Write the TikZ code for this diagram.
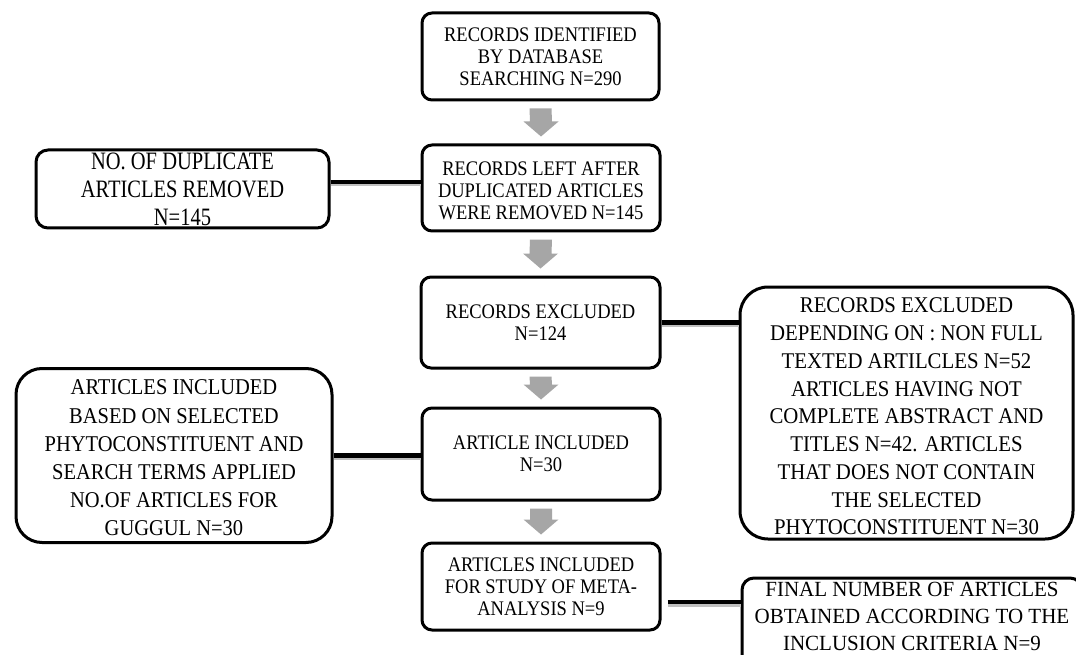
\documentclass[tikz,border=0pt]{standalone}
\usepackage{fontspec}
\usepackage{graphicx}
\setmainfont{Liberation Serif}
\usetikzlibrary{calc}
\definecolor{arrowgray}{HTML}{A6A6A6}
% #1 inner pos, #2 width, #3 height, #4 vertical stretch, #5 top space, #6 text
\newcommand{\bx}[6][c]{%
  \pgfmathsetlengthmacro{\bxh}{#3/#4}%
  \scalebox{1}[#4]{\parbox[c][\bxh][#1]{#2}{\centering\vspace*{#5}#6}}}
\tikzset{
  box/.style={draw, line width=3pt, rounded corners=10pt, inner sep=0pt},
  link/.style={line width=4.5pt},
  linkshadow/.style={line width=4pt, black!25},
}
\newcommand{\grayarrow}[2]{%
  \fill[arrowgray] ($(#1.south)+(-11,7)$) -- ($(#1.south)+(11,7)$)
    -- ($(#2.north)+(11,-22)$) -- ($(#2.north)+(17.5,-22)$)
    -- ($(#2.north)+(0,-7)$) -- ($(#2.north)+(-17.5,-22)$)
    -- ($(#2.north)+(-11,-22)$) -- cycle;}
\begin{document}
\begin{tikzpicture}[x=1pt,y=-1pt]
\useasboundingbox[fill=white] (0,0) rectangle (1076,655);
% main column
\tikzset{mainfont/.style={font=\fontsize{18.5}{19.6}\selectfont}}
\node[box, mainfont] (b1) at (540.5,56.5) {\bx{237pt}{87pt}{1.12}{0pt}{RECORDS IDENTIFIED\\BY DATABASE\\SEARCHING N=290}};
\node[box, mainfont] (b2) at (541,188) {\bx{238pt}{86pt}{1.12}{5.4pt}{RECORDS LEFT AFTER\\DUPLICATED ARTICLES\\WERE REMOVED N=145}};
\node[box, mainfont] (b3) at (540.5,322.5) {\bx{239pt}{91pt}{1.12}{0pt}{RECORDS EXCLUDED\\N=124}};
\node[box, mainfont] (b4) at (541,454) {\bx{238pt}{92pt}{1.12}{0pt}{ARTICLE INCLUDED\\N=30}};
\node[box, mainfont] (b5) at (541,586.5) {\bx{238pt}{87pt}{1.12}{0pt}{ARTICLES INCLUDED\\FOR STUDY OF META-\\ANALYSIS N=9}};
% side boxes
\node[box, font=\fontsize{20.5}{22.6}\selectfont, rounded corners=12pt] (L1) at (182.5,189) {\bx{293pt}{78pt}{1.22}{0.5pt}{NO. OF DUPLICATE\\ARTICLES REMOVED\\N=145}};
\node[box, font=\fontsize{20.5}{25.6}\selectfont, rounded corners=26pt] (L2) at (174,455.5) {\bx{316pt}{174pt}{1.1}{4.5pt}{ARTICLES INCLUDED\\BASED ON SELECTED\\PHYTOCONSTITUENT AND\\SEARCH TERMS APPLIED\\NO.OF ARTICLES FOR\\GUGGUL N=30}};
\node[box, font=\fontsize{20.8}{25.7}\selectfont, rounded corners=28pt] (R1) at (906.5,413) {\bx{333pt}{252pt}{1.08}{6.5pt}{RECORDS EXCLUDED\\DEPENDING ON : NON FULL\\TEXTED ARTILCLES N=52\\ARTICLES HAVING NOT\\COMPLETE ABSTRACT AND\\TITLES N=42. ARTICLES\\THAT DOES NOT CONTAIN\\THE SELECTED\\PHYTOCONSTITUENT N=30}};
\node[box, font=\fontsize{21}{25.8}\selectfont, rounded corners=12pt] (R2) at (912,623) {\bx[t]{340pt}{90pt}{1.03}{4.5pt}{FINAL NUMBER OF ARTICLES\\OBTAINED ACCORDING TO THE\\INCLUSION CRITERIA N=9}};
% gray arrows
\grayarrow{b1}{b2}
\grayarrow{b2}{b3}
\grayarrow{b3}{b4}
\grayarrow{b4}{b5}
% connectors
\coordinate (l1out) at ($(L1.east)+(0,-7)$);
\coordinate (r1in) at (R1.west |- b3.east);
\coordinate (r2in) at ($(R2.west)+(0,-21)$);
\coordinate (b5out) at ($(b5.east |- r2in)+(6,0)$);
\draw[linkshadow] ($(l1out)+(0,2.5)$) -- ($(l1out -| b2.west)+(0,2.5)$);
\draw[linkshadow] ($(b3.east)+(0,2.5)$) -- ($(r1in)+(0,2.5)$);
\draw[linkshadow] ($(L2.east)+(0,2.5)$) -- ($(L2.east -| b4.west)+(0,2.5)$);
\draw[linkshadow] ($(b5out)+(0,2.5)$) -- ($(r2in)+(0,2.5)$);
\draw[link] (l1out) -- (l1out -| b2.west);
\draw[link] (b3.east) -- (r1in);
\draw[link] (L2.east) -- (L2.east -| b4.west);
\draw[link] (b5out) -- (r2in);
\end{tikzpicture}
\end{document}
